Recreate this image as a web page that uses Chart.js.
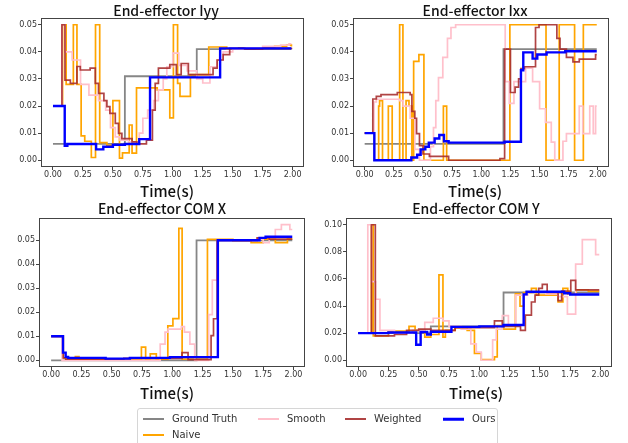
<!DOCTYPE html>
<html><head><meta charset="utf-8">
<script src="https://cdn.jsdelivr.net/npm/chart.js@4/dist/chart.umd.min.js"></script>
<style>
html,body{margin:0;padding:0;background:#fff;}
#fig{position:relative;width:628px;height:443px;overflow:hidden;background:#fff;}
canvas{position:absolute;}
.ttl{position:absolute;transform:translate(-50%,-50%);font-family:"Noto Sans CJK SC","Noto Sans";font-size:14px;font-weight:500;color:#111;white-space:nowrap;line-height:1;}
.xl{position:absolute;transform:translate(-50%,-50%);font-family:"Noto Sans CJK SC","Noto Sans";font-size:15px;font-weight:500;color:#111;white-space:nowrap;line-height:1;}
#legend{position:absolute;left:137px;top:408px;width:361px;height:50px;border:1px solid #d6d6d6;border-radius:3px;box-sizing:border-box;}
.li{position:absolute;font-family:"DejaVu Sans";font-size:10px;color:#333;white-space:nowrap;line-height:1;transform:translateY(-50%);}
.lh{position:absolute;height:2px;transform:translateY(-50%);}
</style>
</head><body>
<div id="fig">
<canvas id="c1" width="314" height="200" style="left:0;top:0"></canvas>
<canvas id="c2" width="314" height="200" style="left:314px;top:0"></canvas>
<canvas id="c3" width="314" height="200" style="left:0;top:200px"></canvas>
<canvas id="c4" width="314" height="200" style="left:314px;top:200px"></canvas>
<div class="ttl" style="left:166px;top:10px">End-effector Iyy</div>
<div class="ttl" style="left:475px;top:10px">End-effector Ixx</div>
<div class="ttl" style="left:162px;top:208px">End-effector COM X</div>
<div class="ttl" style="left:476px;top:208px">End-effector COM Y</div>
<div class="xl" style="left:167px;top:190px">Time(s)</div>
<div class="xl" style="left:475px;top:190px">Time(s)</div>
<div class="xl" style="left:167px;top:392px">Time(s)</div>
<div class="xl" style="left:476px;top:392px">Time(s)</div>
<div id="legend"></div>
</div>
<script>
// ---------- data ----------
const timeTicks = [0, 0.25, 0.5, 0.75, 1.0, 1.25, 1.5, 1.75, 2.0];
const yTicksSmall = [0, 0.01, 0.02, 0.03, 0.04, 0.05];
const yTicksComY = [0, 0.02, 0.04, 0.06, 0.08, 0.10];
const seriesNames = ["Ground Truth", "Naive", "Smooth", "Weighted", "Ours"];
const panelTitles = ["End-effector Iyy", "End-effector Ixx", "End-effector COM X", "End-effector COM Y"];

// each pair: [time where the step starts, value]
const iyyGroundTruth = [[0,0.006],[0.6,0.031],[1.2,0.041],[1.99,0.041]];
const iyyNaive = [[0,0.02],[0.08,0.05],[0.11,0.028],[0.17,0.05],[0.2,0.028],[0.235,0.009],[0.265,0.007],[0.32,0.001],[0.355,0.05],[0.39,0.0065],[0.45,0.0055],[0.5,0.022],[0.555,0.0008],[0.58,0.0027],[0.636,0.013],[0.66,0.0026],[0.697,0.0267],[0.87,0.026],[0.975,0.0156],[1.005,0.05],[1.04,0.0284],[1.06,0.0236],[1.147,0.0316],[1.3,0.0418],[1.45,0.041],[1.55,0.0415],[1.7,0.041],[1.75,0.0415],[1.85,0.042],[1.95,0.0425],[1.99,0.042]];
const iyySmooth = [[0,0.02],[0.075,0.05],[0.1,0.04],[0.16,0.037],[0.23,0.028],[0.3,0.024],[0.38,0.022],[0.44,0.0185],[0.48,0.012],[0.52,0.0086],[0.56,0.0074],[0.63,0.0068],[0.72,0.01],[0.75,0.0155],[0.79,0.0185],[0.84,0.022],[0.88,0.026],[0.92,0.03],[0.95,0.0345],[1.0,0.0395],[1.05,0.035],[1.12,0.033],[1.2,0.03],[1.25,0.0285],[1.31,0.0345],[1.37,0.037],[1.42,0.04],[1.5,0.041],[1.6,0.0415],[1.75,0.042],[1.9,0.0425],[1.97,0.043],[1.99,0.043]];
const iyyWeighted = [[0,0.02],[0.075,0.05],[0.1,0.0296],[0.145,0.0284],[0.2,0.0346],[0.228,0.0333],[0.31,0.034],[0.353,0.0284],[0.38,0.0247],[0.425,0.022],[0.45,0.0198],[0.475,0.0173],[0.52,0.0136],[0.547,0.0099],[0.575,0.008],[0.66,0.0068],[0.7,0.006],[0.78,0.0074],[0.83,0.0185],[0.853,0.0284],[0.88,0.034],[0.975,0.0353],[1.03,0.0316],[1.07,0.0357],[1.13,0.0316],[1.336,0.034],[1.37,0.037],[1.42,0.039],[1.475,0.0413],[1.6,0.041],[1.75,0.0413],[1.99,0.0415]];
const iyyOurs = [[0,0.02],[0.098,0.0053],[0.12,0.006],[0.36,0.004],[0.42,0.005],[0.5,0.0057],[0.6,0.006],[0.72,0.0078],[0.81,0.0306],[1.395,0.0413],[1.99,0.0413]];

const ixxGroundTruth = [[0,0.006],[1.19,0.041],[1.99,0.041]];
const ixxNaive = [[0,0.01],[0.083,0],[0.12,0.02],[0.128,0.022],[0.153,0],[0.203,0.02],[0.236,0],[0.3,0.05],[0.328,0],[0.355,0.022],[0.38,0.02],[0.405,0],[0.42,0.0365],[0.465,0.039],[0.508,0],[0.675,0.02],[0.703,0],[1.245,0.05],[1.555,0],[1.668,0.05],[1.8,0],[1.875,0.05],[1.99,0.05]];
const ixxSmooth = [[0,0.01],[0.08,0.0215],[0.1,0.0225],[0.3,0.022],[0.33,0.02],[0.39,0.0155],[0.43,0.004],[0.47,0],[0.564,0.005],[0.59,0.012],[0.61,0.022],[0.633,0.0305],[0.67,0.038],[0.71,0.045],[0.74,0.049],[0.78,0.05],[1.205,0.029],[1.24,0.021],[1.28,0.029],[1.38,0.034],[1.44,0.029],[1.5,0.019],[1.55,0.014],[1.6,0.0067],[1.63,0],[1.7,0.007],[1.73,0.0098],[1.84,0.02],[1.87,0.0098],[1.93,0.02],[1.96,0.0098],[1.98,0.02],[1.99,0.02]];
const ixxWeighted = [[0,0.01],[0.07,0.0226],[0.1,0.0236],[0.14,0.0242],[0.28,0.025],[0.39,0.0242],[0.405,0.018],[0.43,0.0155],[0.445,0.0098],[0.47,0.0054],[0.5,0.0023],[0.555,0.0014],[0.72,0],[1.16,0.0006],[1.2,0.041],[1.25,0.025],[1.29,0.027],[1.32,0.03],[1.34,0.0338],[1.37,0.0345],[1.465,0.049],[1.495,0.05],[1.648,0.045],[1.675,0.041],[1.73,0.038],[1.786,0.0363],[1.84,0.0373],[1.98,0.039],[1.99,0.039]];
const ixxOurs = [[0,0.01],[0.083,0],[0.4,0.001],[0.45,0.002],[0.48,0.004],[0.52,0.005],[0.55,0.0065],[0.6,0.008],[0.64,0.0093],[0.68,0.007],[0.72,0.0065],[1.2,0.0068],[1.34,0.0332],[1.36,0.0398],[1.44,0.0375],[1.48,0.039],[1.56,0.0398],[1.72,0.0402],[1.99,0.0402]];

const comXGroundTruth = [[0,0],[1.2,0.05],[1.99,0.05]];
const comXNaive = [[0,0.01],[0.1,0.001],[0.2,0.0015],[0.23,0.0005],[0.745,0.0055],[0.78,0.0005],[0.818,0.0027],[0.868,0.0005],[0.963,0.0143],[1.005,0.0174],[1.054,0.055],[1.081,0.0005],[1.29,0.0504],[1.5,0.0498],[1.65,0.049],[1.75,0.0505],[1.85,0.049],[1.95,0.0505],[1.99,0.0505]];
const comXSmooth = [[0,0.01],[0.09,0],[0.9,0.0067],[0.94,0.0117],[0.965,0.013],[1.075,0.014],[1.1,0.0117],[1.145,0.0067],[1.185,0],[1.3,0.019],[1.33,0.0334],[1.37,0.05],[1.7,0.0505],[1.75,0.049],[1.8,0.051],[1.85,0.0545],[1.9,0.0565],[1.97,0.0545],[1.99,0.0545]];
const comXWeighted = [[0,0.01],[0.1,0.001],[0.12,0.0005],[0.6,0.0008],[1.08,0.0032],[1.13,0.0003],[1.32,0.0103],[1.34,0.0173],[1.37,0.05],[1.7,0.051],[1.8,0.0505],[1.99,0.0505]];
const comXOurs = [[0,0.01],[0.098,0.0032],[0.12,0.0014],[0.14,0.001],[0.45,0.0007],[0.65,0.001],[0.98,0.0013],[1.376,0.05],[1.72,0.051],[1.77,0.0515],[1.99,0.0515]];

const comYGroundTruth = [[0,0.02],[0.6,0.025],[1.2,0.05],[1.99,0.05]];
const comYNaive = [[0,0.02],[0.11,0.1],[0.125,0.018],[0.25,0.0215],[0.42,0.025],[0.47,0.022],[0.55,0.017],[0.6,0.019],[0.667,0.063],[0.7,0.017],[0.72,0.022],[0.8,0.024],[0.9,0.022],[0.96,0.005],[1.016,0.0005],[1.125,0.0025],[1.148,0.0256],[1.2,0.023],[1.298,0.049],[1.336,0.04],[1.366,0.05],[1.43,0.053],[1.47,0.048],[1.65,0.043],[1.69,0.053],[1.73,0.049],[1.8,0.052],[1.9,0.051],[1.99,0.051]];
const comYSmooth = [[0,0.02],[0.08,0.1],[0.11,0.058],[0.145,0.045],[0.18,0.022],[0.3,0.02],[0.45,0.022],[0.55,0.028],[0.62,0.031],[0.7,0.029],[0.75,0.025],[0.85,0.023],[0.93,0.012],[0.975,0.006],[1.016,0],[1.11,0.015],[1.14,0.023],[1.19,0.033],[1.24,0.026],[1.3,0.048],[1.4,0.05],[1.55,0.049],[1.65,0.047],[1.727,0.034],[1.795,0.071],[1.85,0.089],[1.96,0.078],[1.99,0.078]];
const comYWeighted = [[0,0.02],[0.11,0.1],[0.142,0.018],[0.3,0.019],[0.4,0.022],[0.5,0.023],[0.6,0.022],[0.8,0.024],[1.125,0.029],[1.19,0.025],[1.34,0.022],[1.38,0.0333],[1.43,0.043],[1.46,0.048],[1.49,0.053],[1.52,0.056],[1.56,0.05],[1.65,0.044],[1.68,0.051],[1.755,0.059],[1.795,0.052],[1.99,0.052]];
const comYOurs = [[0,0.02],[0.25,0.0205],[0.479,0.0114],[0.516,0.0208],[0.57,0.019],[0.6,0.021],[0.77,0.0246],[1.0,0.025],[1.2,0.026],[1.366,0.0486],[1.39,0.0505],[1.7,0.0495],[1.75,0.0485],[1.99,0.0485]];

// ---------- styling ----------
const seriesColors = ["rgba(128,128,128,0.95)", "#ffa500", "#ffc0cb", "rgba(165,42,42,0.88)", "#0000ff"];
const seriesWidths = [1.8, 1.7, 1.7, 1.7, 2.4];

const framePlugin = {
  id: "frame",
  afterDraw(chart) {
    const a = chart.chartArea, ctx = chart.ctx;
    ctx.save();
    ctx.strokeStyle = "#444";
    ctx.lineWidth = 1;
    ctx.strokeRect(Math.round(a.left) + 0.5, Math.round(a.top) + 0.5, Math.round(a.right - a.left) - 1, Math.round(a.bottom - a.top) - 1);
    ctx.restore();
  }
};

function makeChart(id, seriesList, yMin, yMax, yTicks, yWidth, padRight) {
  const datasets = seriesList.map((s, i) => ({
    label: seriesNames[i],
    data: s.map(p => ({x: p[0], y: p[1]})),
    borderColor: seriesColors[i],
    borderWidth: seriesWidths[i],
    stepped: "before",
    pointRadius: 0,
    fill: false,
    order: 5 - i
  }));
  return new Chart(document.getElementById(id), {
    type: "line",
    data: {datasets},
    options: {
      responsive: false,
      animation: false,
      events: [],
      layout: {padding: {left: 0, right: padRight, top: 18, bottom: 0}},
      plugins: {legend: {display: false}, tooltip: {enabled: false}, title: {display: false}},
      scales: {
        x: {
          type: "linear", min: -0.1, max: 2.095,
          afterBuildTicks: sc => { sc.ticks = timeTicks.map(v => ({value: v})); },
          afterFit: sc => { sc.height = 33; },
          ticks: {callback: v => Number(v).toFixed(2), font: {family: "DejaVu Sans", size: 8}, color: "#333", padding: 0, maxRotation: 0, autoSkip: false},
          grid: {drawOnChartArea: false, drawTicks: true, tickLength: 3, tickColor: "#444", color: "#444"},
          border: {display: false}
        },
        y: {
          type: "linear", min: yMin, max: yMax,
          afterBuildTicks: sc => { sc.ticks = yTicks.map(v => ({value: v})); },
          afterFit: sc => { sc.width = yWidth; },
          ticks: {callback: v => Number(v).toFixed(2), font: {family: "DejaVu Sans", size: 8}, color: "#333", padding: 1, autoSkip: false},
          grid: {drawOnChartArea: false, drawTicks: true, tickLength: 3, tickColor: "#444", color: "#444"},
          border: {display: false}
        }
      }
    },
    plugins: [framePlugin]
  });
}

makeChart("c1", [iyyGroundTruth, iyyNaive, iyySmooth, iyyWeighted, iyyOurs], -0.0025, 0.0525, yTicksSmall, 41, 10);
makeChart("c2", [ixxGroundTruth, ixxNaive, ixxSmooth, ixxWeighted, ixxOurs], -0.0025, 0.0525, yTicksSmall, 39, 19);
makeChart("c3", [comXGroundTruth, comXNaive, comXSmooth, comXWeighted, comXOurs], -0.0028, 0.0593, yTicksSmall, 39, 9);
makeChart("c4", [comYGroundTruth, comYNaive, comYSmooth, comYWeighted, comYOurs], -0.005, 0.105, yTicksComY, 32, 16);

// ---------- legend ----------
const legendSlots = [[142, 418], [142, 434], [257, 418], [344, 418], [442, 418]];
const legend = document.getElementById("legend");
seriesNames.forEach((name, i) => {
  const [lx, ly] = legendSlots[i];
  const h = document.createElement("div");
  h.className = "lh";
  h.style.left = (lx - 137) + "px";
  h.style.top = (ly - 408) + "px";
  h.style.width = "21px";
  h.style.height = (i === 4 ? 2.5 : 2) + "px";
  h.style.background = seriesColors[i];
  legend.appendChild(h);
  const t = document.createElement("div");
  t.className = "li";
  t.style.left = (lx + 29 - 137) + "px";
  t.style.top = (ly - 408) + "px";
  t.textContent = name;
  legend.appendChild(t);
});
</script>
</body></html>
